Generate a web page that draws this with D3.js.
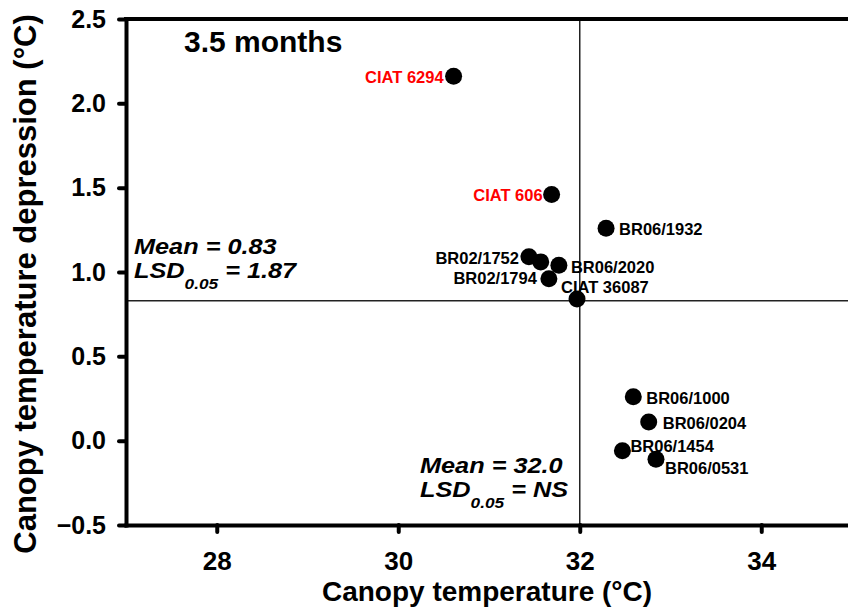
<!DOCTYPE html>
<html>
<head>
<meta charset="utf-8">
<script src="https://cdn.jsdelivr.net/npm/d3@7"></script>
<style>
  body { margin: 0; background: #fff; }
  svg { display: block; font-family: "Liberation Sans", Arial, sans-serif; font-weight: bold; }
</style>
</head>
<body>
<div id="chart"></div>
<script>
// Genotypes, canopy temperature (°C) and canopy temperature depression (°C)
const genotypes = ["CIAT 6294", "CIAT 606", "BR06/1932", "BR02/1752", "", "BR06/2020",
  "BR02/1794", "CIAT 36087", "BR06/1000", "BR06/0204", "BR06/1454", "BR06/0531"];
const canopyTemp = [30.61, 31.69, 32.29, 31.44, 31.57, 31.77, 31.66, 31.97, 32.59, 32.76, 32.47, 32.84];
const depression = [2.16, 1.46, 1.26, 1.09, 1.06, 1.04, 0.96, 0.84, 0.26, 0.11, -0.06, -0.11];
const checks = ["CIAT 6294", "CIAT 606"];

const xTicks = [28, 30, 32, 34];
const yTicks = [-0.5, 0.0, 0.5, 1.0, 1.5, 2.0, 2.5];
const meanTemp = 32.0;
const meanDepression = 0.83;

// label placement: [anchor, dx, dy] from point centre
const labelPos = {
  "CIAT 6294": ["end", -10, 7],
  "CIAT 606": ["end", -9, 7],
  "BR06/1932": ["start", 13, 7],
  "BR02/1752": ["end", -10, 7],
  "BR06/2020": ["start", 12, 8],
  "BR02/1794": ["end", -12, 5],
  "CIAT 36087": ["start", -16, -6],
  "BR06/1000": ["start", 13, 7],
  "BR06/0204": ["start", 14, 7],
  "BR06/1454": ["start", 8, 1],
  "BR06/0531": ["start", 9, 15]
};

const W = 848, H = 609;
const m = { left: 126, top: 19, bottom: 525, right: 852 };

const svg = d3.select("#chart").append("svg")
  .attr("width", W).attr("height", H);

const x = d3.scaleLinear().domain([27, 35]).range([m.left, m.right]);
const y = d3.scaleLinear().domain([-0.5, 2.5]).range([m.bottom, m.top]);

// Reference lines (means)
svg.append("line")
  .attr("x1", x(meanTemp)).attr("x2", x(meanTemp))
  .attr("y1", m.top).attr("y2", m.bottom)
  .attr("stroke", "#222").attr("stroke-width", 1.5);
svg.append("line")
  .attr("x1", m.left).attr("x2", m.right)
  .attr("y1", y(meanDepression)).attr("y2", y(meanDepression))
  .attr("stroke", "#222").attr("stroke-width", 1.5);

// Axes
const yAxis = svg.append("g")
  .attr("transform", `translate(${m.left},0)`)
  .call(d3.axisLeft(y).tickValues(yTicks).tickFormat(d3.format(".1f"))
    .tickSize(7).tickSizeOuter(0).tickPadding(13));

const xAxis = svg.append("g")
  .attr("transform", `translate(0,${m.bottom})`)
  .call(d3.axisBottom(x).tickValues(xTicks).tickFormat(d3.format("d"))
    .tickSize(7).tickSizeOuter(0).tickPadding(20));

[yAxis, xAxis].forEach(a => {
  a.select(".domain").attr("stroke", "#000").attr("stroke-width", 4).attr("stroke-linecap", "square");
  a.selectAll(".tick line").attr("stroke", "#000").attr("stroke-width", 4).attr("stroke-linecap", "round");
  a.selectAll(".tick text").attr("fill", "#000").attr("font-weight", "bold")
    .attr("font-family", "'Liberation Sans', Arial, sans-serif");
});
yAxis.selectAll(".tick text").attr("font-size", 25);
xAxis.selectAll(".tick text").attr("font-size", 26);

// top frame line
svg.append("line")
  .attr("x1", m.left).attr("x2", m.right)
  .attr("y1", m.top).attr("y2", m.top)
  .attr("stroke", "#000").attr("stroke-width", 4).attr("stroke-linecap", "square");

// Points
const pts = genotypes.map((g, i) => ({ name: g, t: canopyTemp[i], d: depression[i] }));

svg.append("g").selectAll("circle")
  .data(pts)
  .join("circle")
  .attr("cx", d => x(d.t))
  .attr("cy", d => y(d.d))
  .attr("r", 8.5)
  .attr("fill", "#000");

svg.append("g").selectAll("text")
  .data(pts.filter(d => d.name))
  .join("text")
  .attr("x", d => x(d.t) + labelPos[d.name][1])
  .attr("y", d => y(d.d) + labelPos[d.name][2])
  .attr("text-anchor", d => labelPos[d.name][0])
  .attr("font-size", 16.5)
  .attr("fill", d => checks.includes(d.name) ? "#ff0000" : "#000")
  .text(d => d.name);

// Title
svg.append("text")
  .attr("x", 184).attr("y", 52)
  .attr("font-size", 30)
  .text("3.5 months");

// Mean / LSD annotations (glyphs a bit wide, as in the original)
function statBlock(px, py, meanTxt, lsdTxt) {
  const g = svg.append("g")
    .attr("transform", `translate(${px},${py}) scale(1.15,1)`)
    .attr("font-style", "italic").attr("font-size", 22);
  g.append("text").attr("x", 0).attr("y", 0).text(`Mean = ${meanTxt}`);
  const t = g.append("text").attr("x", 0).attr("y", 24);
  t.append("tspan").text("LSD");
  t.append("tspan").attr("font-size", 15).attr("dy", 11).text("0.05");
  t.append("tspan").attr("dy", -11).text(` = ${lsdTxt}`);
}
statBlock(134, 254, "0.83", "1.87");
statBlock(420, 473, "32.0", "NS");

// Axis titles
svg.append("text")
  .attr("x", (m.left + W) / 2).attr("y", 601)
  .attr("text-anchor", "middle")
  .attr("font-size", 28)
  .text("Canopy temperature (°C)");

svg.append("text")
  .attr("transform", "translate(36,284) rotate(-90)")
  .attr("text-anchor", "middle")
  .attr("font-size", 31)
  .text("Canopy temperature depression (°C)");
</script>
</body>
</html>
